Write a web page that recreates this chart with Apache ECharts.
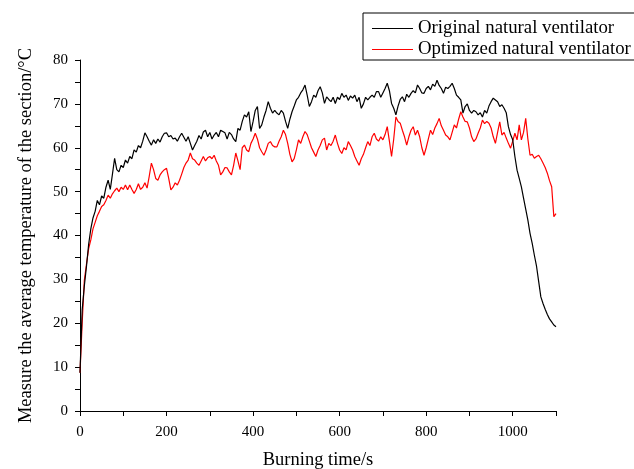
<!DOCTYPE html>
<html>
<head>
<meta charset="utf-8">
<script src="https://cdn.jsdelivr.net/npm/echarts@6/dist/echarts.min.js"></script>
<style>html,body{margin:0;padding:0;background:#fff;}#c{width:634px;height:469px;}</style>
</head>
<body>
<div id="c"></div>
<script>
// time step 5 s, from 0 to 1100 s
const timeStep = 5;
const seriesNames = ['Original natural ventilator', 'Optimized natural ventilator'];
const xTicks = [0, 200, 400, 600, 800, 1000];
const yTicks = [0, 10, 20, 30, 40, 50, 60, 70, 80];

const original = [
  8.7, 23, 28.5, 33, 38, 41.5, 44, 45.5, 48, 47, 49, 48.5, 51, 52.6, 50.5, 54, 57.6, 55, 54.5, 56,
  55.5, 57.2, 56.5, 58, 57.5, 59.5, 59, 60.5, 60, 61.5, 63.4, 62.5, 61.5, 60.6, 61.8, 61, 62, 61.3, 62.5, 63.3,
  63.4, 62.5, 62.8, 62, 62.2, 61.5, 62.5, 63.3, 62.4, 61.5, 62.5, 61, 59.5, 60.5, 61.5, 62.8, 62, 63.6, 64, 62.5,
  63.5, 62, 62.9, 63.5, 62.5, 64, 63.7, 63.4, 62, 63.5, 63, 62, 61.4, 64.4, 64, 66, 67.5, 67, 68.2, 63.7,
  66, 68.5, 69.4, 64.4, 65.2, 67, 68.5, 70.5, 69, 67.9, 68.5, 67.9, 67.5, 68.5, 67.9, 66, 64.4, 66.5, 68.2, 69.5,
  70.9, 71.5, 72.5, 73.2, 74.3, 72, 69.4, 70.5, 72, 71.5, 73, 73.9, 72.5, 70.1, 71.6, 71, 70.5, 71.5, 70.1, 71.5,
  71, 72.4, 71.5, 72, 70.8, 71.8, 71.3, 72, 70.5, 71.5, 69, 70, 71.5, 70.9, 71.5, 72, 71.5, 72.8, 72.8, 71.5,
  72.5, 73.5, 74.7, 73, 70.1, 69, 67.5, 69.5, 71, 71.6, 70.5, 72.2, 71.5, 72.4, 73, 72.5, 74.3, 73.5, 72.5, 72.4,
  73.5, 74, 73.2, 74.5, 74, 75.4, 74.2, 73.5, 72.4, 73.8, 73.5, 74, 74.7, 73.5, 72, 71.5, 70.9, 67.9, 69.4, 70,
  68.5, 67.9, 68.5, 68.2, 67.5, 68, 67, 68.5, 67.9, 69.5, 70.5, 71.3, 70.9, 70.5, 69.4, 69.8, 69, 68, 64.8, 63,
  61.8, 58, 54.9, 53, 51.1, 48.5, 46, 43.5, 40.5, 38.2, 35.5, 33, 29.5, 26, 24.5, 23.2, 22, 21, 20.3, 19.6,
  19.2
];

const optimized = [
  8.7, 20, 29.8, 33.5, 37, 39, 41.5, 43, 44.5, 45.5, 46.6, 47, 48, 49.2, 48.5, 49.5, 50.2, 50.8, 50, 51,
  50.5, 51.5, 50.4, 51.5, 50.5, 49.6, 50.5, 51.8, 50.5, 51, 52, 50.8, 53.5, 56.5, 55, 53, 52.6, 53.8, 54.5, 55,
  55.3, 53, 50.4, 51, 52, 51.5, 52.6, 54, 55.5, 56.5, 57.2, 58.8, 57.5, 57.2, 56.5, 56, 57, 58, 57, 57.7,
  58, 57.5, 58.3, 57, 56, 53.8, 54.5, 55.5, 55.4, 54.5, 53.8, 56, 58.8, 57, 55, 60, 60.6, 59.5, 59.1, 61,
  62, 63.3, 62, 60, 59.1, 58.3, 59.5, 61, 61.4, 60.5, 60.2, 60.2, 61.5, 62.5, 64, 63, 61, 58.5, 56.8, 57.5,
  59.5, 61.8, 61, 62.5, 63.7, 63, 61.5, 60, 59, 58, 59.5, 60.5, 61.8, 62.2, 59.5, 61, 60.5, 61.5, 62.9, 61,
  59.5, 58.7, 60, 59.5, 61.4, 60.5, 59.5, 58, 57, 56, 57.5, 58.5, 60, 61.4, 60.5, 62.5, 63.3, 62, 61.5, 62.5,
  61.8, 63, 64.8, 61.5, 58, 62, 67, 66, 65.6, 64, 62.5, 60.6, 62.5, 64, 64.8, 62.9, 64, 62.5, 60, 58.3,
  60, 62, 64, 63, 64.5, 65.5, 66.7, 65, 64, 62.9, 62.5, 61.8, 63.5, 65.2, 64.5, 66.5, 68.2, 67, 66, 65.9,
  64.5, 62.5, 61.4, 62, 63.3, 64.5, 66.3, 65.5, 66, 65.6, 64.5, 62.5, 61, 63.5, 65.9, 62.9, 63.5, 62.2, 61, 59.9,
  61.5, 63.3, 61.8, 65.2, 61.8, 63.5, 66.7, 62, 58.3, 58.5, 57.6, 58, 58.3, 57.5, 56.5, 55.5, 54.2, 52.5, 51.1, 44.3,
  45
];

function pairs(arr) { return arr.map((v, i) => [i * timeStep, v]); }

const font = 'Liberation Serif, Times New Roman, serif';
const chart = echarts.init(document.getElementById('c'), null, {renderer: 'canvas'});
chart.setOption({
  backgroundColor: '#fff',
  animation: false,
  grid: {left: 80, right: 78, top: 60, bottom: 58, containLabel: false, outerBoundsMode: 'none'},
  legend: {
    left: 363, top: 13, orient: 'vertical',
    padding: [6, 30, 1, 9],
    itemWidth: 41, itemHeight: 10, itemGap: 2,
    borderColor: '#000', borderWidth: 1, borderRadius: 0,
    textStyle: {fontFamily: font, fontSize: 18.8, color: '#000'},
    data: seriesNames.map(n => ({name: n, icon: 'path://M0,5 L41,5 L41,6 L0,6 Z'}))
  },
  xAxis: {
    type: 'value', min: 0, max: 1100, interval: 100,
    name: 'Burning time/s', nameLocation: 'middle', nameGap: 40,
    nameTextStyle: {fontFamily: font, fontSize: 18.5, color: '#000'},
    axisLine: {lineStyle: {color: '#000', width: 1}},
    axisTick: {show: true, length: 5, lineStyle: {color: '#000'}},
    splitLine: {show: false},
    axisLabel: {
      fontFamily: font, fontSize: 15, color: '#000', margin: 14,
      formatter: v => xTicks.indexOf(v) >= 0 ? String(v) : ''
    }
  },
  yAxis: {
    type: 'value', min: 0, max: 80, interval: 5,
    name: 'Measure the average temperature of the section/°C', nameLocation: 'middle', nameGap: 44,
    nameRotate: 90,
    nameTextStyle: {fontFamily: font, fontSize: 18.5, color: '#000'},
    axisLine: {show: true, lineStyle: {color: '#000', width: 1}},
    axisTick: {show: true, length: 5, lineStyle: {color: '#000'}},
    splitLine: {show: false},
    axisLabel: {
      fontFamily: font, fontSize: 15, color: '#000', margin: 12,
      formatter: v => yTicks.indexOf(v) >= 0 ? String(v) : ''
    }
  },
  series: [
    {name: seriesNames[0], type: 'line', data: pairs(original), symbol: 'none', showSymbol: false,
     lineStyle: {color: '#000', width: 1.2}, itemStyle: {color: '#000'}, z: 3},
    {name: seriesNames[1], type: 'line', data: pairs(optimized), symbol: 'none', showSymbol: false,
     lineStyle: {color: '#ff0000', width: 1.2}, itemStyle: {color: '#ff0000'}, z: 2}
  ]
});
</script>
</body>
</html>
